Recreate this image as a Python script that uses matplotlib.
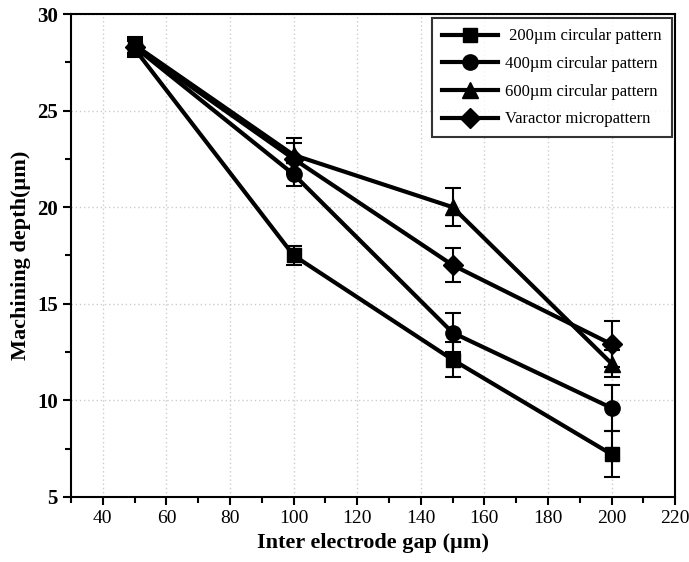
import matplotlib
matplotlib.use("Agg")
import matplotlib.pyplot as plt
from matplotlib.lines import Line2D
from matplotlib.ticker import MultipleLocator

# gap values (um) and machining depths for each pattern
gap = [50, 100, 150, 200]
depth_200 = [28.2, 17.5, 12.1, 7.2]
err_200 = [0.4, 0.5, 0.9, 1.2]
depth_400 = [28.3, 21.7, 13.5, 9.6]
err_400 = [0.4, 0.6, 1.0, 1.2]
depth_600 = [28.4, 22.7, 20.0, 11.9]
err_600 = [0.4, 0.9, 1.0, 0.7]
depth_var = [28.3, 22.5, 17.0, 12.9]
err_var = [0.4, 0.8, 0.9, 1.2]

labels = [" 200\u00b5m circular pattern", "400\u00b5m circular pattern",
          "600\u00b5m circular pattern", "Varactor micropattern"]
markers = ["s", "o", "^", "D"]
sizes = [10, 11, 11, 10]

plt.rcParams['font.family'] = ['Liberation Serif', 'DejaVu Serif']

fig = plt.figure(figsize=(6.89, 5.62), dpi=100)
ax = fig.add_axes([0.103, 0.116, 0.877, 0.859])

series = [(depth_200, err_200), (depth_400, err_400), (depth_600, err_600), (depth_var, err_var)]
handles = []
for (d, e), lab, m, s in zip(series, labels, markers, sizes):
    ax.errorbar(gap, d, yerr=e, color='black', lw=3, marker=m, ms=s,
                capsize=6, elinewidth=1.5, capthick=1.5)
    handles.append(Line2D([], [], color='black', lw=3, marker=m, ms=s, label=lab))

ax.set_xlim(30, 220)
ax.set_ylim(5, 30)
ax.xaxis.set_major_locator(MultipleLocator(20))
ax.xaxis.set_minor_locator(MultipleLocator(10))
ax.yaxis.set_major_locator(MultipleLocator(5))
ax.yaxis.set_minor_locator(MultipleLocator(2.5))
ax.grid(True, which='major', color='#cccccc', linestyle=(0, (1, 2)), linewidth=1)
ax.set_axisbelow(True)

ax.tick_params(which='both', direction='out', width=1.5)
ax.tick_params(which='major', length=6)
ax.tick_params(which='minor', length=4)
ax.tick_params(axis='x', labelsize=14)
ax.tick_params(axis='y', labelsize=15)
for lbl in ax.get_yticklabels():
    lbl.set_fontweight('bold')
for sp in ax.spines.values():
    sp.set_linewidth(1.5)

ax.set_xlabel("Inter electrode gap (\u00b5m)", fontsize=16, fontweight='bold')
ax.set_ylabel("Machining depth(\u00b5m)", fontsize=16, fontweight='bold')

leg = ax.legend(handles=handles, loc='upper right', bbox_to_anchor=(680 / 689, 1 - 10 / 562),
                bbox_transform=fig.transFigure, fontsize=12, frameon=True,
                fancybox=False, edgecolor='black', handlelength=3.4,
                labelspacing=0.7, borderpad=0.6, handletextpad=0.4)
leg.get_frame().set_linewidth(1.5)

fig.savefig("out.png", dpi=100)
